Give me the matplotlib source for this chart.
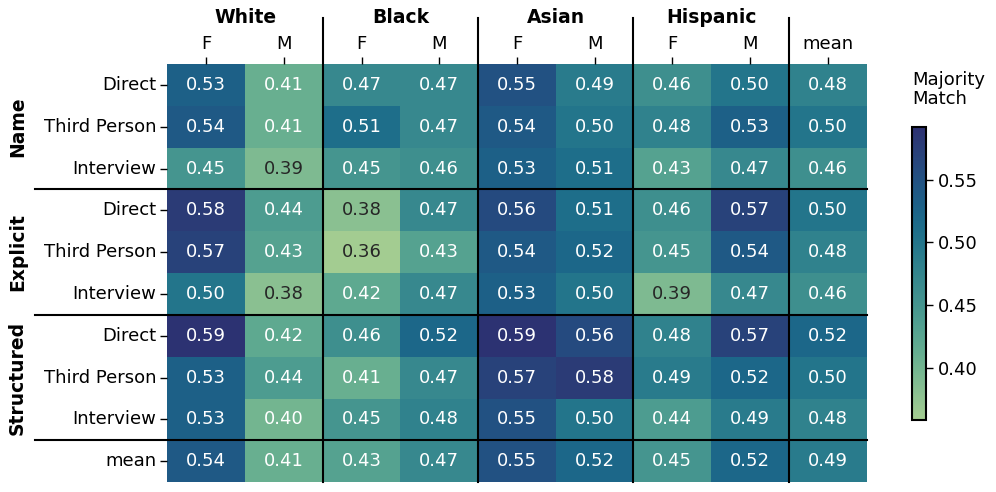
import numpy as np
import matplotlib
matplotlib.use("Agg")
import matplotlib.pyplot as plt
import seaborn as sns

col_labels = ["F", "M", "F", "M", "F", "M", "F", "M", "mean"]
race_groups = ["White", "Black", "Asian", "Hispanic"]
row_labels = ["Direct", "Third Person", "Interview"] * 3 + ["mean"]
row_groups = ["Name", "Explicit", "Structured"]

name_direct = [0.53, 0.41, 0.47, 0.47, 0.55, 0.49, 0.46, 0.50, 0.48]
name_third = [0.54, 0.41, 0.51, 0.47, 0.54, 0.50, 0.48, 0.53, 0.50]
name_interview = [0.45, 0.39, 0.45, 0.46, 0.53, 0.51, 0.43, 0.47, 0.46]
explicit_direct = [0.58, 0.44, 0.38, 0.47, 0.56, 0.51, 0.46, 0.57, 0.50]
explicit_third = [0.57, 0.43, 0.36, 0.43, 0.54, 0.52, 0.45, 0.54, 0.48]
explicit_interview = [0.50, 0.38, 0.42, 0.47, 0.53, 0.50, 0.39, 0.47, 0.46]
structured_direct = [0.59, 0.42, 0.46, 0.52, 0.59, 0.56, 0.48, 0.57, 0.52]
structured_third = [0.53, 0.44, 0.41, 0.47, 0.57, 0.58, 0.49, 0.52, 0.50]
structured_interview = [0.53, 0.40, 0.45, 0.48, 0.55, 0.50, 0.44, 0.49, 0.48]
mean_row = [0.54, 0.41, 0.43, 0.47, 0.55, 0.52, 0.45, 0.52, 0.49]

data = np.array([name_direct, name_third, name_interview,
                 explicit_direct, explicit_third, explicit_interview,
                 structured_direct, structured_third, structured_interview,
                 mean_row])

fig = plt.figure(figsize=(9.96, 4.92), dpi=100)
ax = fig.add_axes([0.168, 0.020, 0.702, 0.850])
cax = fig.add_axes([0.9157, 0.146, 0.0141, 0.596])

cmap = sns.color_palette("crest", as_cmap=True)
sns.heatmap(data, ax=ax, cbar_ax=cax, cmap=cmap, vmin=0.358, vmax=0.592,
            annot=False, linewidths=0)

FS = 13
nr, nc = data.shape
for i in range(nr):
    for j in range(nc):
        v = data[i, j]
        color = "#262626" if v < 0.395 else "white"
        ax.text(j + 0.5, i + 0.5, f"{v:.2f}", ha="center", va="center",
                fontsize=FS, color=color)

ax.xaxis.tick_top()
ax.set_xticks(np.arange(nc) + 0.5)
ax.set_xticklabels(col_labels, fontsize=FS)
ax.set_yticks(np.arange(nr) + 0.5)
ax.set_yticklabels(row_labels, fontsize=FS, rotation=0)
ax.tick_params(axis="x", length=5, width=1, pad=3)
ax.tick_params(axis="y", length=5, width=1, pad=3)

# vertical separators
for xb in [2, 4, 6, 8]:
    ax.plot([xb, xb], [nr, -1.1], color="black", lw=1.5, clip_on=False)
# horizontal separators
for yb in [3, 6, 9]:
    ax.plot([-1.70, nc], [yb, yb], color="black", lw=1.5, clip_on=False)

for k, g in enumerate(race_groups):
    ax.text(2 * k + 1, -1.12, g, ha="center", va="center", fontsize=13.5,
            fontweight="bold")
for k, g in enumerate(row_groups):
    ax.text(-1.93, 3 * k + 1.5, g, ha="center", va="center", fontsize=13.5,
            fontweight="bold", rotation=90)

cbar = ax.collections[0].colorbar
cbar.outline.set_edgecolor("black")
cbar.outline.set_linewidth(1.5)
cbar.set_ticks([0.40, 0.45, 0.50, 0.55])
cbar.ax.tick_params(labelsize=FS, length=5, width=1)
fig.text(0.9157, 0.818, "Majority\nMatch", ha="left", va="center", fontsize=FS,
         linespacing=1.05)

fig.savefig("out.png", dpi=100)
